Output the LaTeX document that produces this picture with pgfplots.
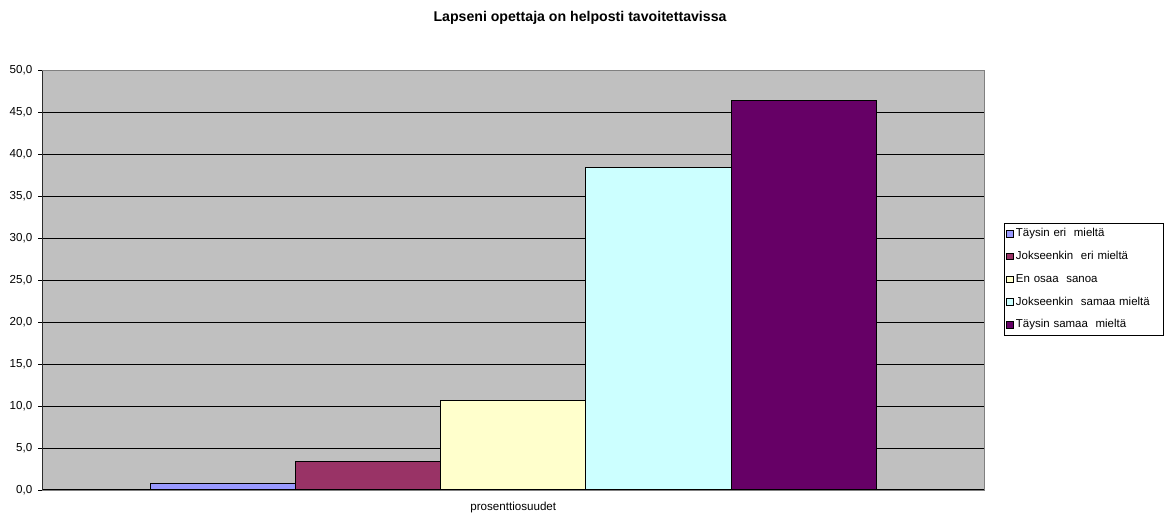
\documentclass[border=0pt]{standalone}
\usepackage{pgfplots}
\pgfplotsset{compat=1.18}
\usepackage{fontspec}
\setmainfont{Liberation Sans}

\definecolor{plotbg}{HTML}{C0C0C0}
\definecolor{cA}{HTML}{9999FF}
\definecolor{cB}{HTML}{993366}
\definecolor{cC}{HTML}{FFFFCC}
\definecolor{cD}{HTML}{CCFFFF}
\definecolor{cE}{HTML}{660066}

\begin{document}
\begin{tikzpicture}
\useasboundingbox (0,0) rectangle (878.25pt,384.75pt);
\node[font=\bfseries\fontsize{10.6}{12}\selectfont] at (435pt,371.5pt) {Lapseni opettaja on helposti tavoitettavissa};
\begin{axis}[
    at={(31.7pt,17.25pt)}, anchor=south west,
    scale only axis,
    width=706.5pt, height=314.6pt,
    ybar, bar width=1, bar shift=0pt,
    xmin=-1.243, xmax=5.243,
    ymin=0, ymax=50,
    ytick={0,5,...,50},
    ytick pos=left, xtick pos=bottom,
    xtick={2}, xticklabels={prosenttiosuudet},
    x tick style={draw=none},
    extra x ticks={-1.243,5.243}, extra x tick labels={},
    extra x tick style={grid=none, tick style={draw=black}, major tick length=3pt},
    tick align=outside,
    major tick length=3pt,
    y tick style={black, line width=0.6pt},
    ymajorgrids=true,
    major grid style={black, line width=0.7pt},
    axis line style={draw=gray, line width=0.8pt},
    axis background/.style={fill=plotbg},
    ticklabel style={font=\fontsize{8.7}{10}\selectfont},
    /pgf/number format/assume math mode=true,
    yticklabel={\pgfmathprintnumber[fixed,fixed zerofill,precision=1,use comma]{\tick}},
    yticklabel style={xshift=-1pt},
    xticklabel style={anchor=center, yshift=-10.5pt},
    legend style={at={(1.0209,0.6365)}, anchor=north west, draw=black, fill=white,
        font=\fontsize{8.6}{10}\selectfont, row sep=5.4pt, inner xsep=1.5pt, inner ysep=2pt,
        text width=107pt, cells={anchor=west}},
    legend image code/.code={\draw[#1, draw=black, line width=0.5pt] (0pt,-2.4pt) rectangle (4.8pt,2.4pt);},
    every axis plot/.append style={draw=black, line width=0.8pt},
]
\addplot[fill=cA] coordinates {(0,0.8)};
\addplot[fill=cB] coordinates {(1,3.4)};
\addplot[fill=cC] coordinates {(2,10.7)};
\addplot[fill=cD] coordinates {(3,38.4)};
\addplot[fill=cE] coordinates {(4,46.4)};
\legend{Täysin eri\ \ mieltä, Jokseenkin\ \ eri mieltä, En osaa\ \ sanoa, Jokseenkin\ \ samaa mieltä, Täysin samaa\ \ mieltä}
\draw[black, line width=0.8pt] (rel axis cs:0,1) -- (rel axis cs:0,0) -- (rel axis cs:1,0);
\end{axis}
\end{tikzpicture}
\end{document}
